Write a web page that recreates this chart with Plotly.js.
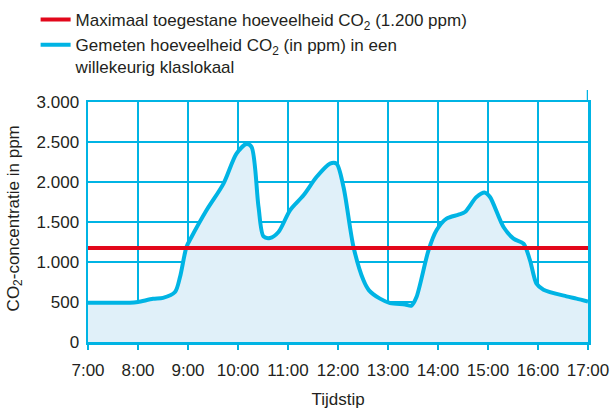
<!DOCTYPE html>
<html>
<head>
<meta charset="utf-8">
<script src="https://cdn.plot.ly/plotly-3.0.1.min.js"></script>
<style>html,body{margin:0;padding:0;background:#fff;}#chart{width:614px;height:410px;}</style>
</head>
<body>
<div id="chart"></div>
<script>
// Time of day in decimal hours
var times = [7.0, 7.5, 7.84, 8.0, 8.3, 8.5, 8.74, 8.84, 8.97, 9.07, 9.37, 9.71, 9.97, 10.17, 10.27, 10.41, 10.51, 10.64, 10.81, 11.04, 11.31, 11.57, 11.84, 11.97, 12.11, 12.31, 12.51, 12.62, 12.84, 13.04, 13.34, 13.47, 13.57, 13.81, 13.97, 14.17, 14.41, 14.54, 14.77, 14.94, 15.04, 15.31, 15.51, 15.71, 15.84, 15.97, 16.11, 16.57, 16.77, 17.0];
// Measured CO2 (ppm)
var co2 = [490, 490, 490, 500, 540, 552, 625, 812, 1188, 1312, 1646, 1980, 2355, 2475, 2440, 1690, 1320, 1300, 1375, 1646, 1833, 2062, 2230, 2230, 1937, 1188, 771, 646, 542, 488, 470, 455, 562, 1146, 1396, 1542, 1592, 1625, 1812, 1867, 1812, 1437, 1292, 1229, 1021, 729, 654, 571, 542, 505];
// Maximum allowed level line (as drawn)
var limitTimes = [7, 17];
var limitValues = [1175, 1175];

var xTickVals = [7, 8, 9, 10, 11, 12, 13, 14, 15, 16, 17];
var xTickLabels = ['7:00', '8:00', '9:00', '10:00', '11:00', '12:00', '13:00', '14:00', '15:00', '16:00', '17:00'];
var yTickVals = [0, 500, 1000, 1500, 2000, 2500, 3000];
var yTickLabels = ['0', '500', '1.000', '1.500', '2.000', '2.500', '3.000'];

var nameLimit = 'Maximaal toegestane hoeveelheid CO<sub>2</sub> (1.200 ppm)';
var nameMeasured = 'Gemeten hoeveelheid CO<sub>2</sub> (in ppm) in een<br>willekeurig klaslokaal';
var yTitle = 'CO<sub>2</sub>-concentratie in ppm';

var CYAN = '#00b4e4';
var RED = '#e2071b';
var FILL = '#e0f0f9';
var TEXT = '#231f20';
var FONT = 'Liberation Sans, Arial, sans-serif';

var traces = [
  {x: times, y: co2, type: 'scatter', mode: 'lines', fill: 'tozeroy', fillcolor: FILL,
   line: {width: 0, shape: 'spline', smoothing: 0.8, color: FILL}, showlegend: false, hoverinfo: 'skip'},
  {x: times, y: co2, type: 'scatter', mode: 'lines', name: nameMeasured, legendrank: 2,
   line: {width: 4, shape: 'spline', smoothing: 0.8, color: CYAN}},
  {x: limitTimes, y: limitValues, type: 'scatter', mode: 'lines', name: nameLimit, legendrank: 1,
   line: {width: 4, color: RED}, cliponaxis: false}
];

var layout = {
  width: 614, height: 410,
  margin: {l: 88, r: 26, t: 102, b: 68, pad: 0, autoexpand: false},
  paper_bgcolor: '#ffffff', plot_bgcolor: '#ffffff',
  font: {family: FONT, size: 17, color: TEXT},
  showlegend: true,
  legend: {xref: 'container', yref: 'container', x: 0.058, y: 0.995, xanchor: 'left', yanchor: 'top',
           bgcolor: 'rgba(0,0,0,0)', font: {family: FONT, size: 17, color: TEXT}, valign: 'top',
           traceorder: 'normal', tracegroupgap: 0},
  xaxis: {range: [7, 17], tickvals: xTickVals, ticktext: xTickLabels, showgrid: true, gridcolor: CYAN, gridwidth: 2,
          showline: true, linecolor: CYAN, linewidth: 2.5, mirror: true, ticks: 'outside', ticklen: 5, tickwidth: 2,
          tickcolor: CYAN, zeroline: false, ticklabelstandoff: 6, tickangle: 0, tickfont: {size: 17, color: TEXT},
          title: {text: 'Tijdstip', font: {size: 17, color: TEXT}}, fixedrange: true},
  yaxis: {range: [0, 3000], tickvals: yTickVals, ticktext: yTickLabels, showgrid: true, gridcolor: CYAN, gridwidth: 2,
          showline: true, linecolor: CYAN, linewidth: 2.5, mirror: true, ticks: '', zeroline: false,
          ticklabelstandoff: 3, tickfont: {size: 17, color: TEXT}, fixedrange: true},
  annotations: [{text: yTitle, xref: 'paper', yref: 'paper', x: -0.146, y: 0.515, xanchor: 'center', yanchor: 'middle',
                 textangle: -90, showarrow: false, font: {family: FONT, size: 17, color: TEXT}}],
  shapes: [{type: 'line', xref: 'x', yref: 'paper', x0: 17, x1: 17, y0: 1, y1: 1.05, line: {color: CYAN, width: 2.5}}]
};

Plotly.newPlot('chart', traces, layout, {displayModeBar: false, staticPlot: true});
</script>
</body>
</html>
